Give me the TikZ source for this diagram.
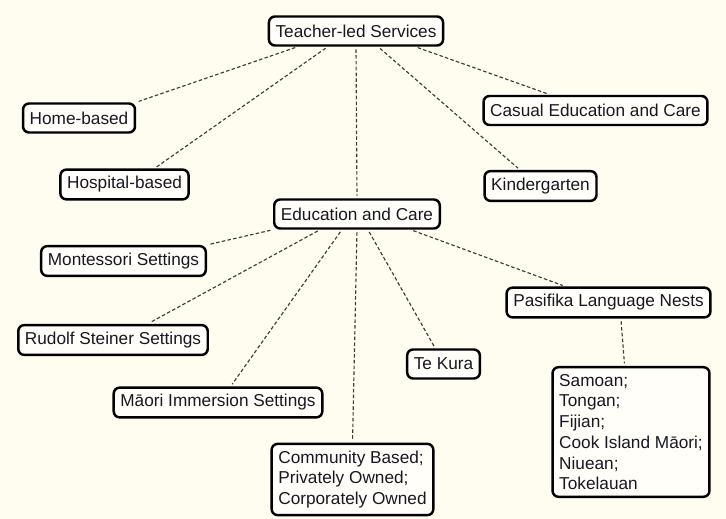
\documentclass[tikz,border=0pt]{standalone}
\usepackage{fontspec}
\setmainfont{Liberation Sans}
\usetikzlibrary{calc}
\definecolor{pagebg}{RGB}{255,252,240}
\definecolor{boxbg}{RGB}{255,254,248}
\definecolor{boxtext}{RGB}{24,24,36}
\definecolor{linkgray}{RGB}{60,60,60}

\begin{document}
\begin{tikzpicture}[x=0.02cm,y=-0.02cm]
    \tikzstyle{box}=[draw=black, fill=boxbg, text=boxtext, line width=1.4pt, rounded corners=3.4pt,
                     inner xsep=3.8pt, inner ysep=3.9pt, minimum height=16.5pt, align=left,
                     font=\fontsize{9.8}{11.8}\selectfont]
    \tikzstyle{link}=[draw=linkgray, line width=0.65pt, dash pattern=on 2pt off 1.3pt,
                      shorten <=1.5pt, shorten >=1.5pt]
    \fill[pagebg] (0,0) rectangle (726,519);
    \node[box] (teacher) at (356,31) {Teacher-led Services};
    \node[box] (home) at (79,118) {Home-based};
    \node[box] (hosp) at (124.5,184.5) {Hospital-based};
    \node[box] (casual) at (595.5,110.5) {Casual Education and Care};
    \node[box] (kinder) at (540.5,186) {Kindergarten};
    \node[box] (edu) at (357,214) {Education and Care};
    \node[box] (montes) at (123.5,261) {Montessori Settings};
    \node[box] (rudolf) at (113,340) {Rudolf Steiner Settings};
    \node[box] (pasif) at (608.5,302.5) {Pasifika Language Nests};
    \node[box] (tekura) at (443.5,364) {Te Kura};
    \node[box] (maori) at (218,402.5) {Māori Immersion Settings};
    \node[box] (commun) at (352.5,479.5) {Community Based;\\Privately Owned;\\Corporately Owned};
    \node[box] (langs) at (631,432) {Samoan;\\Tongan;\\Fijian;\\Cook Island Māori;\\Niuean;\\Tokelauan};
    % dashed links: parent bottom edge -> child top edge
    \foreach \p/\fp/\c/\fc in {teacher/.17/home/1, teacher/.34/hosp/.73, teacher/.5/edu/.5,
                               teacher/.625/kinder/.32, teacher/.835/casual/.3,
                               edu/0/montes/1, edu/.28/rudolf/.68, edu/.41/maori/.56,
                               edu/.5/commun/.5, edu/.565/tekura/.39, edu/.82/pasif/.29,
                               pasif/.56/langs/.46}
      \draw[link] ($(\p.south west)!\fp!(\p.south east)$) -- ($(\c.north west)!\fc!(\c.north east)$);
\end{tikzpicture}
\end{document}
